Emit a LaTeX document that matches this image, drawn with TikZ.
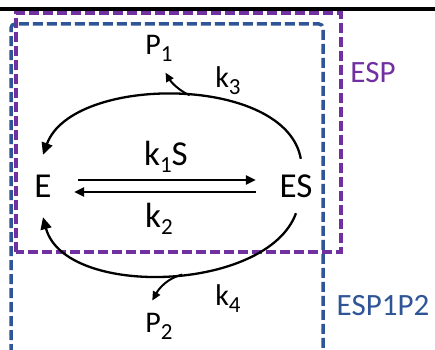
\documentclass[tikz,border=0pt]{standalone}
\usepackage{fontspec}
\setmainfont{Carlito}
\usetikzlibrary{arrows.meta,calc}
\definecolor{esppurple}{HTML}{7030A0}
\definecolor{espblue}{HTML}{2F5597}
\newcommand{\idx}[1]{\raisebox{-7pt}{\fontsize{23}{23}\selectfont #1}}

\begin{document}
\begin{tikzpicture}[x=1pt,y=1pt,
  big/.style={font=\fontsize{35}{38}\selectfont, inner sep=0pt},
  lbl/.style={font=\fontsize{30}{33}\selectfont, inner sep=0pt},
  boxlbl/.style={font=\fontsize{31}{34}\selectfont, inner sep=0pt},
  flow/.style={line width=2.3pt, -{Triangle[length=12pt,width=11pt]}},
  rxn/.style={line width=2.5pt, -{Triangle[length=10pt,width=9pt]}},
  release/.style={line width=2pt, -{Triangle[length=9pt,width=8pt]}},
  group/.style={line width=3.5pt, dash pattern=on 10pt off 4pt}]
 \useasboundingbox (0,0) rectangle (435,349);

 % boxes
 \draw[line width=3.5pt] (0,340) -- (435,340);
 \draw[group, esppurple] (16,97) rectangle (341,336);
 \draw[group, espblue, rounded corners=4pt] (11,-5) -- (11,325) -- (323,325) -- (323,-5);
 \node[boxlbl, text=esppurple] (ESP) at (373,276) {ESP};
 \node[boxlbl, text=espblue] (ESPPP) at (383,43) {ESP1P2};

 % species
 \node[big, minimum width=62pt, minimum height=62pt] (E) at (43,163) {E};
 \node[big, minimum width=80pt, minimum height=54pt] (ES) at (296,163) {ES};
 \node[big] (K1) at (166,192) {k\idx{1}S};
 \node[big] (K2) at (159,130) {k\idx{2}};
 \node[lbl] (P1) at (159,301) {P\idx{1}};
 \node[lbl] (K3) at (228,268) {k\idx{3}};
 \node[lbl] (K4) at (228,50) {k\idx{4}};
 \node[lbl] (P2) at (159,23) {P\idx{2}};

 % reactions
 \draw[rxn, shorten <=4pt] ([yshift=6pt]E.east) -- ([yshift=6pt]ES.west);
 \draw[rxn] ([yshift=-6pt]ES.west) -- ([yshift=-6pt]E.east);
 \draw[flow] (ES.80) to[out=100,in=70,looseness=0.85] coordinate[pos=0.465] (T3) (E.north);
 \draw[flow] (ES.south) to[out=250,in=-75,looseness=0.85] coordinate[pos=0.455] (T4) (E.south);
 \draw[release, shorten >=13pt] (T3) to[out=155,in=-60] (P1.south);
 \draw[release, shorten >=14pt] (T4) to[out=195,in=60] (P2.north west);
\end{tikzpicture}
\end{document}
